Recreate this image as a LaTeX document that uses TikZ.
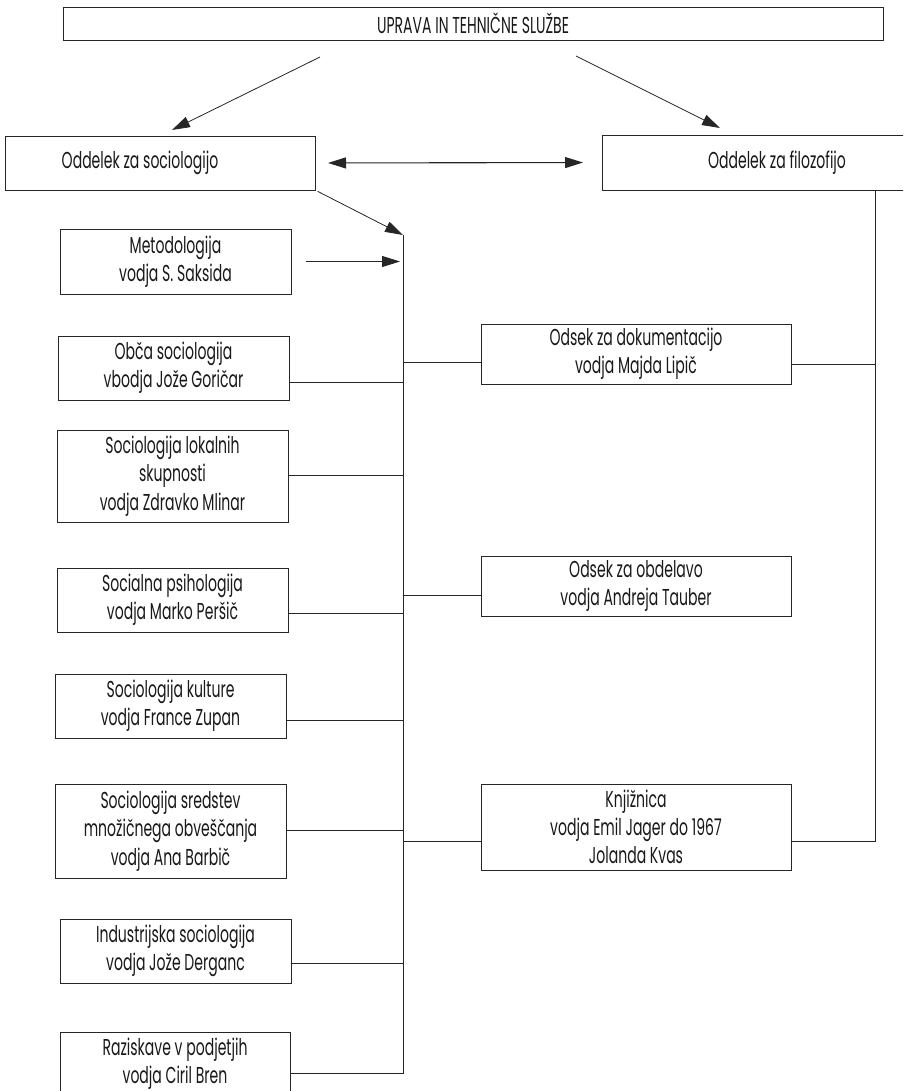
\documentclass[tikz,border=0pt]{standalone}
\usepackage{fontspec}
\newfontfamily\boxfont[FakeStretch=0.61]{Poppins}
\usetikzlibrary{arrows.meta}
\tikzset{
  box/.style={draw=black!85, line width=0.9pt, rectangle, inner sep=0pt, outer sep=0pt,
    align=center, font=\boxfont\fontsize{23}{28.3}\selectfont, text=black!90},
  lbl/.style={inner sep=0pt, font=\boxfont\fontsize{23}{28.3}\selectfont, text=black!90},
  conn/.style={draw=black!85, line width=0.8pt},
  arr/.style={conn, -{Triangle[length=18pt,width=11pt]}},
  darr/.style={conn, line width=1.1pt, {Triangle[length=18pt,width=11pt]}-{Triangle[length=18pt,width=11pt]}}
}
\begin{document}
\begin{tikzpicture}[x=1pt,y=-1pt]
\clip (0,0) rectangle (903,1091);
\fill[white] (0,0) rectangle (903,1091);

% top level
\node[box, minimum width=820pt, minimum height=33pt] (top) at (473,23.5) {UPRAVA IN TEHNIČNE SLUŽBE};
\node[box, minimum width=310pt, minimum height=54pt] (soc) at (160,163) {};
\node[lbl] (soctext) at (140,163) {Oddelek za sociologijo};
\node[box, minimum width=304pt, minimum height=55pt] (filo) at (754,162.5) {};
\node[lbl] (filotext) at (777,163) {Oddelek za filozofijo};

% left column
\node[box, minimum width=231pt, minimum height=65pt] (met) at (175.5,261.5) {Metodologija\\vodja S. Saksida};
\node[box, minimum width=231pt, minimum height=64pt] (obca) at (173.5,368) {Obča sociologija\\vbodja Jože Goričar};
\node[box, minimum width=231pt, minimum height=92pt] (lok) at (172.5,476) {Sociologija lokalnih\\skupnosti\\vodja Zdravko Mlinar};
\node[box, minimum width=231pt, minimum height=64pt] (soci) at (172.5,600) {Socialna psihologija\\vodja Marko Peršič};
\node[box, minimum width=231pt, minimum height=64pt] (kult) at (170.5,706) {Sociologija kulture\\vodja France Zupan};
\node[box, minimum width=231pt, minimum height=94pt] (sred) at (170.5,831) {Sociologija sredstev\\množičnega obveščanja\\vodja Ana Barbič};
\node[box, minimum width=231pt, minimum height=64pt] (ind) at (175.5,951) {Industrijska sociologija\\vodja Jože Derganc};
\node[box, minimum width=230pt, minimum height=64pt] (raz) at (175,1064) {Raziskave v podjetjih\\vodja Ciril Bren};

% right column
\node[box, minimum width=310pt, minimum height=60pt] (doc) at (636,354) {Odsek za dokumentacijo\\vodja Majda Lipič};
\node[box, minimum width=310pt, minimum height=60pt] (obd) at (636,586) {Odsek za obdelavo\\vodja Andreja Tauber};
\node[box, minimum width=310pt, minimum height=86pt] (knj) at (636,827) {Knjižnica\\vodja Emil Jager do 1967\\Jolanda Kvas};

% free ends
\coordinate (a1s) at (320,57);
\coordinate (a1e) at (172,130);
\coordinate (a2s) at (576,56);
\coordinate (a2e) at (720,128);
\coordinate (t0) at (403,235);
\coordinate (tm) at (403,261.5);
\coordinate (tb) at (403,1073);
\coordinate (t1) at (403,382);
\coordinate (t2) at (403,475);
\coordinate (t3) at (403,613);
\coordinate (t4) at (403,720);
\coordinate (t5) at (403,830);
\coordinate (t6) at (403,963);
\coordinate (r1) at (403,362);
\coordinate (r2) at (403,595);
\coordinate (r3) at (403,841);
\coordinate (f0) at (875,190);
\coordinate (f1) at (875,364);
\coordinate (f3) at (875,841);

% arrows
\draw[arr] (a1s) -- (a1e);
\draw[arr] (a2s) -- (a2e);
\draw[darr, shorten <=13pt, shorten >=19pt] (soc.east) -- (filo.west);
\draw[arr, shorten <=3pt] (soc.south east) -- (t0);
\draw[arr, shorten <=15pt, shorten >=3pt] (met.east) -- (tm);

% trunk and branches
\draw[conn] (t0) -- (tb) -- (raz.east |- tb);
\draw[conn] (t1) -- (obca.east |- t1);
\draw[conn] (t2) -- (lok.east |- t2);
\draw[conn] (t3) -- (soci.east |- t3);
\draw[conn] (t4) -- (kult.east |- t4);
\draw[conn] (t5) -- (sred.east |- t5);
\draw[conn] (t6) -- (ind.east |- t6);
\draw[conn] (r1) -- (doc.west |- r1);
\draw[conn] (r2) -- (obd.west |- r2);
\draw[conn] (r3) -- (knj.west |- r3);

% philosophy branch
\draw[conn] (f0) -- (f3) -- (knj.east |- f3);
\draw[conn] (f1) -- (doc.east |- f1);
\end{tikzpicture}
\end{document}
